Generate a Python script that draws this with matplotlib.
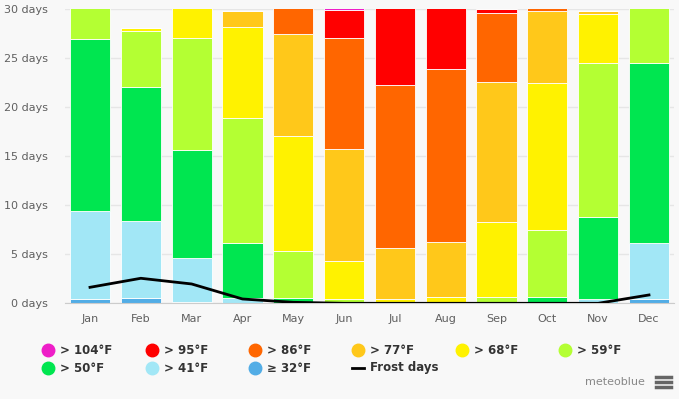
import matplotlib
matplotlib.use("Agg")
import matplotlib.pyplot as plt
from matplotlib.lines import Line2D
import numpy as np

months = ["Jan", "Feb", "Mar", "Apr", "May", "Jun", "Jul", "Aug", "Sep", "Oct", "Nov", "Dec"]
labels = ["\u2265 32\u00b0F", "> 41\u00b0F", "> 50\u00b0F", "> 59\u00b0F", "> 68\u00b0F",
          "> 77\u00b0F", "> 86\u00b0F", "> 95\u00b0F", "> 104\u00b0F"]
colors = ["#52ade6", "#a2e7f6", "#00e650", "#b4ff33", "#fff200",
          "#ffc81a", "#ff6600", "#ff0000", "#ee1ec8"]

# days per month in each class (bottom to top)
d32  = [0.40, 0.50, 0.17, 0.00, 0.00, 0.00, 0.00, 0.00, 0.00, 0.00, 0.00, 0.44]
d41  = [9.04, 7.92, 4.48, 0.50, 0.00, 0.00, 0.00, 0.00, 0.00, 0.00, 0.45, 5.74]
d50  = [17.53, 13.66, 11.01, 5.68, 0.50, 0.00, 0.00, 0.00, 0.00, 0.60, 8.38, 18.35]
d59  = [4.03, 5.71, 11.34, 12.68, 4.83, 0.44, 0.00, 0.00, 0.60, 6.87, 15.64, 6.47]
d68  = [0.00, 0.27, 4.00, 9.27, 11.69, 3.87, 0.40, 0.67, 7.69, 15.02, 5.03, 0.00]
d77  = [0.00, 0.00, 0.00, 1.70, 10.40, 11.42, 5.20, 5.55, 14.27, 7.31, 0.30, 0.00]
d86  = [0.00, 0.00, 0.00, 0.00, 3.58, 11.27, 16.65, 17.66, 7.00, 1.20, 0.00, 0.00]
d95  = [0.00, 0.00, 0.00, 0.00, 0.00, 2.85, 8.75, 7.12, 0.44, 0.00, 0.00, 0.00]
d104 = [0.00, 0.00, 0.00, 0.00, 0.00, 0.25, 0.00, 0.00, 0.00, 0.00, 0.00, 0.00]
frost = [1.63, 2.55, 1.97, 0.44, 0.10, 0.0, 0.0, 0.0, 0.0, 0.0, 0.0, 0.85]

series = [d32, d41, d50, d59, d68, d77, d86, d95, d104]

fig = plt.figure(figsize=(6.79, 3.99), dpi=100)
fig.patch.set_facecolor("#f8f8f8")
W, H = 679, 399
ax = fig.add_axes([64.6 / W, 1 - 303.3 / H, (674.4 - 64.6) / W, (303.3 - 9) / H])
ax.set_facecolor("#f8f8f8")

x = np.arange(len(months))
bottom = np.zeros(len(months))
for vals, c in zip(series, colors):
    v = np.array(vals)
    ax.bar(x, v, bottom=bottom, width=0.79, color=c, edgecolor="white", linewidth=0.6, zorder=2)
    bottom += v
ax.plot(x, frost, color="black", linewidth=2, zorder=3)

ax.set_xlim(-0.5, 11.5)
ax.set_ylim(0, 30)
ax.set_yticks(range(0, 31, 5))
ax.set_yticklabels([f"{v} days" for v in range(0, 31, 5)])
ax.set_xticks(x)
ax.set_xticklabels(months)
ax.grid(axis="y", color="#e6e6e6", linewidth=1, zorder=0)
for s in ax.spines.values():
    s.set_visible(False)
ax.spines["bottom"].set_visible(True)
ax.spines["bottom"].set_color("#cccccc")
ax.tick_params(axis="both", length=0, colors="#606060", labelsize=8)
ax.tick_params(axis="y", pad=12)
ax.tick_params(axis="x", pad=8)

# legend
leg_order = [8, 7, 6, 5, 4, 3, 2, 1, 0]
xs = [48, 152, 255, 358, 462, 565]
for i, idx in enumerate(leg_order):
    row, col = divmod(i, 6)
    px, py = xs[col], 350 + row * 18
    fig.add_artist(Line2D([px / W], [1 - py / H], marker="o", markersize=9,
                          color=colors[idx], linestyle="none"))
    fig.text((px + 12) / W, 1 - py / H, labels[idx], fontsize=8.5, color="#333333",
             va="center", ha="left", fontweight="bold")
px, py = xs[3], 368
fig.add_artist(Line2D([(px - 6) / W, (px + 6) / W], [1 - py / H, 1 - py / H],
                      color="black", linewidth=2))
fig.text((px + 12) / W, 1 - py / H, "Frost days", fontsize=8.5, color="#333333",
         va="center", ha="left", fontweight="bold")

fig.text(645 / W, 1 - 382 / H, "meteoblue", fontsize=8, color="#888888", ha="right", va="center")
for dy in (-5, 0, 5):
    fig.add_artist(Line2D([656 / W, 671 / W], [1 - (382 + dy) / H] * 2, color="#666666", linewidth=2.5))

fig.savefig("out.png", dpi=100, facecolor=fig.get_facecolor())
